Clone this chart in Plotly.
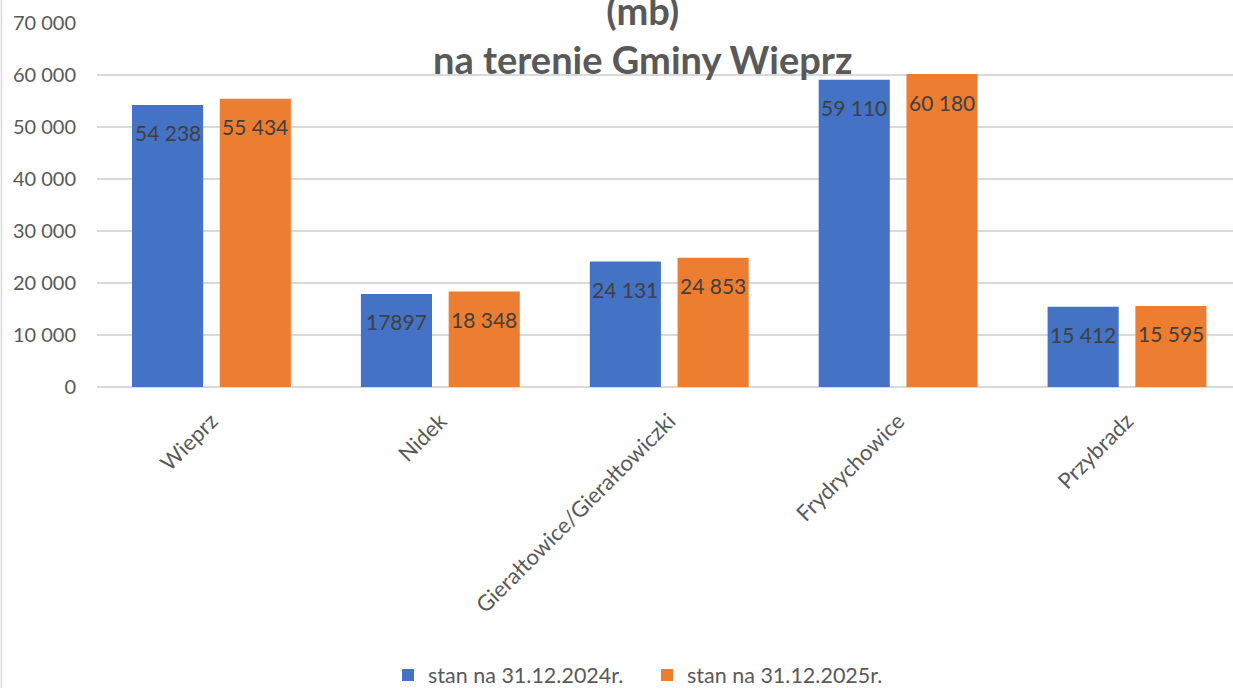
import plotly.graph_objects as go

categories = ["Wieprz", "Nidek", "Gierałtowice/Gierałtowiczki", "Frydrychowice", "Przybradz"]
series_names = ["stan na 31.12.2024r.", "stan na 31.12.2025r."]
values_2024 = [54238, 17897, 24131, 59110, 15412]
values_2025 = [55434, 18348, 24853, 60180, 15595]
labels_2024 = ["54 238", "17897", "24 131", "59 110", "15 412"]
labels_2025 = ["55 434", "18 348", "24 853", "60 180", "15 595"]
y_tick_vals = [0, 10000, 20000, 30000, 40000, 50000, 60000, 70000]
y_tick_text = ["0", "10 000", "20 000", "30 000", "40 000", "50 000", "60 000", "70 000"]
title_lines = ["(mb)", "na terenie Gminy Wieprz"]

colors = ["#4472C4", "#ED7D31"]
W, H = 1233, 688
L, R, T, B = 97, 0, 23, 301
x_range = [-0.5, 4.463]
bargap = 0.233
bargroupgap = 0.19
FONT = "Lato"
GRAY = "#595959"

plot_w = W - L - R
plot_h = H - T - B


def px_x(xp):
    return (xp - L) / plot_w


def px_y(yp):
    return (H - B - yp) / plot_h


fig = go.Figure()
for name, vals, col in zip(series_names, [values_2024, values_2025], colors):
    fig.add_trace(go.Bar(x=categories, y=vals, name=name,
                         marker=dict(color=col, line=dict(width=0))))

cat_px = plot_w / (x_range[1] - x_range[0])
offset = (1 - bargap) * cat_px / 4

annotations = []
for j, labs in enumerate([labels_2024, labels_2025]):
    vals = [values_2024, values_2025][j]
    sign = -1 if j == 0 else 1
    for i, cat in enumerate(categories):
        annotations.append(dict(x=cat, y=vals[i], xref="x", yref="y", text=labs[i],
                                showarrow=False, xshift=sign * offset, yshift=-28,
                                yanchor="middle",
                                font=dict(family=FONT, size=21, color="#404040")))

annotations.append(dict(x=px_x(642), y=px_y(84), xref="paper", yref="paper",
                        text="<b>" + "<br>".join(title_lines) + "</b>",
                        showarrow=False, yanchor="bottom", align="center",
                        font=dict(family=FONT, size=38, color=GRAY)))

fig.update_layout(
    width=W, height=H,
    margin=dict(l=L, r=R, t=T, b=B, pad=0, autoexpand=False),
    paper_bgcolor="white", plot_bgcolor="white",
    barmode="group", bargap=bargap, bargroupgap=bargroupgap,
    font=dict(family=FONT, color=GRAY),
    xaxis=dict(range=x_range, tickangle=-45, showgrid=False, showline=False, zeroline=False,
               tickfont=dict(family=FONT, size=22, color=GRAY), ticklabelstandoff=16),
    yaxis=dict(range=[0, 70000], tickvals=y_tick_vals, ticktext=y_tick_text,
               showgrid=True, gridcolor="#d9d9d9", gridwidth=1.5,
               zeroline=True, zerolinecolor="#d9d9d9", zerolinewidth=1.5,
               showline=False, tickfont=dict(family=FONT, size=20, color=GRAY),
               ticklabelstandoff=20),
    legend=dict(orientation="h", xanchor="center", x=px_x(647),
                yanchor="middle", y=px_y(675), entrywidth=214,
                font=dict(family=FONT, size=21.5, color=GRAY)),
    annotations=annotations,
    shapes=[dict(type="line", xref="paper", yref="paper",
                 x0=px_x(1.5), x1=px_x(1.5),
                 y0=px_y(H), y1=px_y(0),
                 line=dict(color="#d9d9d9", width=1.5))],
    showlegend=True,
)

fig.write_html("out.html", config={"displayModeBar": False},
               post_script="document.body.style.margin='0';")
